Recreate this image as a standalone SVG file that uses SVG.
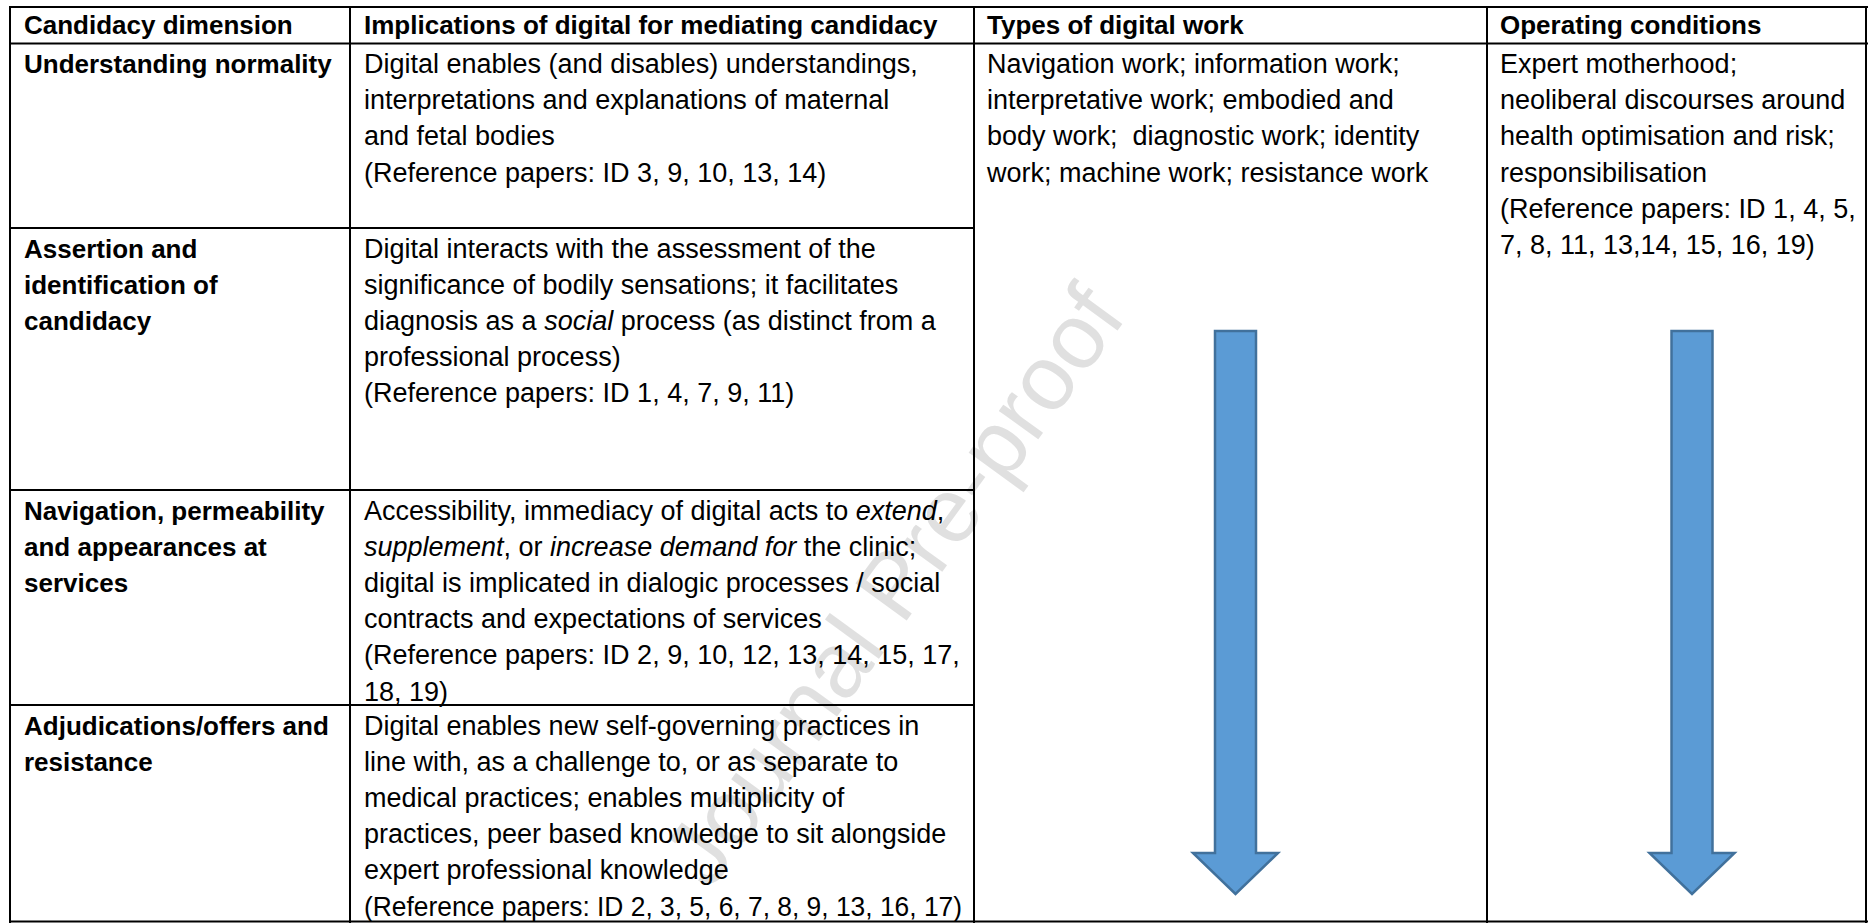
<svg xmlns="http://www.w3.org/2000/svg" width="1868" height="923" viewBox="0 0 1868 923">
<style>
.b{font-family:"Liberation Sans",Arial,sans-serif;font-weight:bold;font-size:26px;fill:#000}
.r{font-family:"Liberation Sans",Arial,sans-serif;font-size:27px;fill:#000}
.wm{font-family:"Liberation Sans",Arial,sans-serif;font-size:92px;fill:#e0e0e0}
.g{stroke:#000;stroke-width:2;fill:none}
.arr{fill:#5B9BD5;stroke:#41719C;stroke-width:2.5}
</style>
<defs>
<path id="arrow" d="M1215,331 H1256 V853 H1278 L1235.5,894 L1193,853 H1215 Z"/>
</defs>
<rect width="1868" height="923" fill="#fff"/>
<g id="watermark"><text class="wm" text-anchor="middle" transform="translate(893,585) rotate(-54)" x="0" y="32">Journal Pre-proof</text></g>
<g id="grid" class="g">
<path d="M9,7 H1868 M9,43.5 H1868 M9,228 H974 M9,490 H974 M9,705 H974 M9,921.5 H1868"/>
<path d="M10,6 V923 M350,6 V923 M974,6 V923 M1487,6 V923 M1866,6 V923"/>
</g>
<g id="header">
<text class="b" x="24" y="34">Candidacy dimension</text>
<text class="b" x="364" y="34">Implications of digital for mediating candidacy</text>
<text class="b" x="987" y="34">Types of digital work</text>
<text class="b" x="1500" y="34">Operating conditions</text>
</g>
<g id="row1">
<text class="b" x="24" y="73">Understanding normality</text>
<text class="r" x="364" y="73">Digital enables (and disables) understandings,</text>
<text class="r" x="364" y="109.2">interpretations and explanations of maternal</text>
<text class="r" x="364" y="145.4">and fetal bodies</text>
<text class="r" x="364" y="181.6">(Reference papers: ID 3, 9, 10, 13, 14)</text>
</g>
<g id="row2">
<text class="b" x="24" y="257.5">Assertion and</text>
<text class="b" x="24" y="293.7">identification of</text>
<text class="b" x="24" y="329.9">candidacy</text>
<text class="r" x="364" y="257.5">Digital interacts with the assessment of the</text>
<text class="r" x="364" y="293.7">significance of bodily sensations; it facilitates</text>
<text class="r" x="364" y="329.9">diagnosis as a <tspan font-style="italic">social</tspan> process (as distinct from a</text>
<text class="r" x="364" y="366.1">professional process)</text>
<text class="r" x="364" y="402.3">(Reference papers: ID 1, 4, 7, 9, 11)</text>
</g>
<g id="row3">
<text class="b" x="24" y="519.5">Navigation, permeability</text>
<text class="b" x="24" y="555.7">and appearances at</text>
<text class="b" x="24" y="591.9">services</text>
<text class="r" x="364" y="519.5">Accessibility, immediacy of digital acts to <tspan font-style="italic">extend</tspan>,</text>
<text class="r" x="364" y="555.7"><tspan font-style="italic">supplement</tspan>, or <tspan font-style="italic">increase demand for</tspan> the clinic;</text>
<text class="r" x="364" y="591.9">digital is implicated in dialogic processes / social</text>
<text class="r" x="364" y="628.1">contracts and expectations of services</text>
<text class="r" x="364" y="664.3">(Reference papers: ID 2, 9, 10, 12, 13, 14, 15, 17,</text>
<text class="r" x="364" y="700.5">18, 19)</text>
</g>
<g id="row4">
<text class="b" x="24" y="734.5">Adjudications/offers and</text>
<text class="b" x="24" y="770.7">resistance</text>
<text class="r" x="364" y="734.5">Digital enables new self-governing practices in</text>
<text class="r" x="364" y="770.7">line with, as a challenge to, or as separate to</text>
<text class="r" x="364" y="806.9">medical practices; enables multiplicity of</text>
<text class="r" x="364" y="843.1">practices, peer based knowledge to sit alongside</text>
<text class="r" x="364" y="879.3">expert professional knowledge</text>
<text class="r" x="364" y="915.5" textLength="598" lengthAdjust="spacingAndGlyphs">(Reference papers: ID 2, 3, 5, 6, 7, 8, 9, 13, 16, 17)</text>
</g>
<g id="digital-work">
<text class="r" x="987" y="73">Navigation work; information work;</text>
<text class="r" x="987" y="109.2">interpretative work; embodied and</text>
<text class="r" x="987" y="145.4" xml:space="preserve">body work;  diagnostic work; identity</text>
<text class="r" x="987" y="181.6">work; machine work; resistance work</text>
</g>
<g id="operating-conditions">
<text class="r" x="1500" y="73">Expert motherhood;</text>
<text class="r" x="1500" y="109.2">neoliberal discourses around</text>
<text class="r" x="1500" y="145.4">health optimisation and risk;</text>
<text class="r" x="1500" y="181.6">responsibilisation</text>
<text class="r" x="1500" y="217.8">(Reference papers: ID 1, 4, 5,</text>
<text class="r" x="1500" y="254">7, 8, 11, 13,14, 15, 16, 19)</text>
</g>
<g id="connectors">
<use href="#arrow" class="arr"/>
<use href="#arrow" class="arr" transform="translate(456.5,0)"/>
</g>
</svg>
